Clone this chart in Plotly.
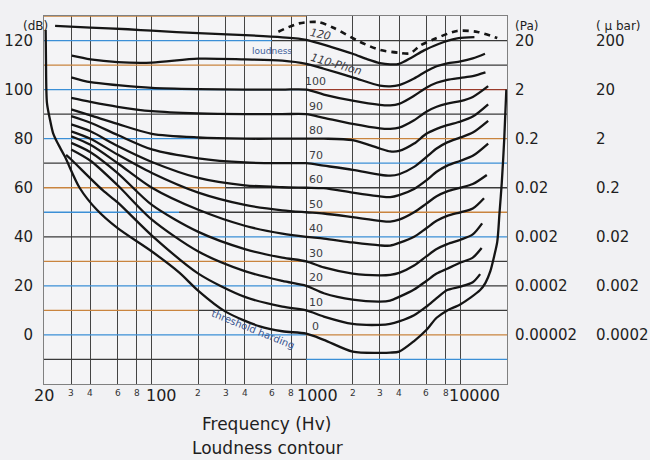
import numpy as np
import plotly.graph_objects as go

# ---------------- data ----------------
f_p0 = [20.5, 20.6, 20.9, 21.9, 22.9, 24.5, 27.3, 34, 44, 60, 100, 150, 200, 300, 500, 700, 1000, 1300,
        2000, 3000, 3500, 4000, 5000, 6000, 7000, 8200, 10000, 13400, 14500, 15600, 16500, 17300, 17900,
        18500, 19200, 19800]
db_p0 = [124.3, 112, 94.6, 87.6, 82.3, 78.2, 72.7, 60, 51, 43.5, 34, 25.5, 18, 9.5, 3.5, 1.5, 0.5, -2,
         -6.8, -7.3, -7.2, -6.8, -2.5, 2, 7, 10, 12.5, 18.3, 21.2, 26, 32, 38, 50, 62, 80, 100]

f_p10 = [27.8, 30, 48, 60, 100, 200, 400, 700, 1000, 1300, 2000, 3000, 3500, 4000, 5000, 6000, 7000,
         8200, 10000, 12000, 13400]
db_p10 = [73.4, 71.5, 59, 54, 40.5, 25, 15.5, 11.5, 10, 7.5, 4.5, 4.1, 4.5, 5.5, 8, 11.5, 15, 18.3,
          19.7, 21.5, 24.8]

f_std = [30, 40, 60, 100, 200, 400, 700, 1000, 1300, 2000, 3000, 3500, 4000, 5000, 6000, 7000, 8200,
         10000, 12000]

db_p20 = [75.6, 71, 61, 47, 34, 26, 22, 20, 17, 14.4, 13.6, 14, 15.5, 18.5, 22, 25, 27, 29.5, 31.5]
db_p30 = [78.3, 74.5, 66, 53, 42, 35, 31.5, 30, 27.5, 25, 24.3, 24.5, 25.3, 28.3, 32, 35, 37, 38.8, 41]
db_p40 = [81, 77.5, 70, 60, 51, 44.5, 41.3, 40, 39.3, 37.7, 36.5, 36.4, 37.5, 40, 43.5, 46.5, 48.5, 50, 51.5]
db_p50 = [83, 80, 73.5, 66, 58, 53, 50.8, 50, 49.5, 48, 46.5, 46.2, 47, 50, 53.5, 56.5, 58.5, 60, 61.5]
db_p60 = [85.8, 83, 77, 70.5, 64, 61, 60.2, 60, 59.8, 58, 56.5, 56.2, 57, 59.5, 63, 66.5, 69, 71, 73]
db_p70 = [89.2, 86.5, 81.5, 75.6, 72, 70.3, 70, 70, 69, 67.3, 65.3, 64.9, 65.5, 68.5, 72.5, 76, 78.5, 80.5, 82.5]
db_p80 = [91.9, 89.5, 86, 82, 80.5, 80, 80, 80, 80, 79.4, 76, 74.8, 75, 78, 82, 84, 85.5, 87, 89]
db_p90 = [96.6, 95, 93, 91.2, 90.3, 90, 90, 90, 88.5, 86, 84.2, 84, 84.5, 87.5, 91, 93, 94.3, 95.3, 97]
db_p100 = [105, 103, 101.8, 100.7, 100.2, 100, 100, 100, 98, 95.5, 93.8, 93.6, 94.2, 97.5, 100.8, 102.8,
           104, 104.8, 105.5]
db_p110 = [113.8, 112.3, 111.2, 111, 112.6, 112.3, 111.8, 110.5, 108.5, 105, 101.6, 101.3, 101.8, 104.5,
           107.5, 109.5, 110.7, 111.5, 112.7]

tip_f = {20: 13700, 30: 13800, 40: 14200, 50: 14800, 60: 15100, 70: 15100, 80: 15100, 90: 15100,
         100: 14500, 110: 14400}
tip_db = {20: 35.4, 30: 45.5, 40: 55.7, 50: 65.2, 60: 78, 70: 87.3, 80: 94, 90: 101.4, 100: 107, 110: 114.6}

f_p120 = [23.6, 40, 70, 100, 200, 400, 700, 1000, 1460, 2000, 2500, 3000, 3500, 4000, 4800, 5800, 7200,
          8300, 9700, 12300]
db_p120 = [126, 125.3, 124.6, 124, 123, 122.2, 121.3, 120.3, 117.3, 114.6, 112.3, 110.8, 110.3, 110.5,
           113, 116, 118.6, 120, 121, 121.4]

f_dash = [660, 900, 1200, 1500, 2240, 3000, 4000, 4700, 5500, 6700, 9500, 12900, 17300]
db_dash = [123.6, 127, 127.5, 125.2, 119.4, 116.2, 115, 114.8, 118, 120.5, 123.9, 123.5, 121]

phon_labels = ["0", "10", "20", "30", "40", "50", "60", "70", "80", "90", "100"]
phon_values = [0, 10, 20, 30, 40, 50, 60, 70, 80, 90, 100]

grid_freqs = [30, 40, 60, 80, 100, 200, 300, 400, 600, 800, 1000, 2000, 3000, 4000, 6000, 8000, 10000]
big_ticks = [20, 100, 1000, 10000]
big_labels = ["20", "100", "1000", "10000"]
small_ticks = [30, 40, 60, 80, 200, 300, 400, 600, 800, 2000, 3000, 4000, 6000, 8000]
small_labels = ["3", "4", "6", "8", "2", "3", "4", "6", "8", "2", "3", "4", "6", "8"]

y_ticks = [0, 20, 40, 60, 80, 100, 120]
pa_labels = ["0.00002", "0.0002", "0.002", "0.02", "0.2", "2", "20"]
ubar_labels = ["0.0002", "0.002", "0.02", "0.2", "2", "20", "200"]

BLUE, ORANGE, DARK, RED = "#3b8fd6", "#c9843e", "#3a3a3a", "#9a3a2a"
hline_db = [130, 120, 110, 100, 90, 80, 70, 60, 50, 40, 30, 20, 10, 0, -10]
hline_segments = [
    [(20, 1000, ORANGE)],
    [(20, 600, BLUE), (600, 20000, DARK)],
    [(20, 1000, ORANGE), (1000, 20000, DARK)],
    [(20, 1000, BLUE), (1000, 20000, RED)],
    [(20, 20000, DARK)],
    [(20, 200, BLUE), (200, 1000, DARK), (1000, 20000, ORANGE)],
    [(20, 1000, DARK), (1000, 20000, BLUE)],
    [(20, 300, ORANGE), (300, 20000, DARK)],
    [(20, 150, BLUE), (150, 1000, DARK), (1000, 20000, ORANGE)],
    [(20, 200, DARK), (200, 20000, BLUE)],
    [(20, 1000, ORANGE), (1000, 20000, DARK)],
    [(20, 1000, BLUE), (1000, 20000, DARK)],
    [(20, 200, ORANGE), (200, 20000, DARK)],
    [(20, 1000, BLUE), (1000, 20000, ORANGE)],
    [(20, 1000, DARK), (1000, 20000, BLUE)],
]

# ---------------- figure ----------------
fig = go.Figure()

# coloured horizontal grid lines
by_color = {}
for lvl, segs in zip(hline_db, hline_segments):
    for f0, f1, c in segs:
        xs, ys = by_color.setdefault(c, ([], []))
        xs += [f0, f1, None]
        ys += [lvl, lvl, None]
for c, (xs, ys) in by_color.items():
    fig.add_trace(go.Scatter(x=xs, y=ys, mode="lines", line=dict(color=c, width=1.3),
                             hoverinfo="skip", showlegend=False))

curve_line = dict(color="#151515", width=2.3, shape="spline", smoothing=0.8)

def add_curve(f, db):
    fig.add_trace(go.Scatter(x=f, y=db, mode="lines", line=curve_line,
                             hoverinfo="skip", showlegend=False))

add_curve(f_p0, db_p0)
add_curve(f_p10, db_p10)
for lvl, vals in [(20, db_p20), (30, db_p30), (40, db_p40), (50, db_p50), (60, db_p60),
                  (70, db_p70), (80, db_p80), (90, db_p90), (100, db_p100), (110, db_p110)]:
    f = list(f_std)
    d = list(vals)
    if lvl == 110:
        f[0] = 30.3
    add_curve(f + [tip_f[lvl]], d + [tip_db[lvl]])
add_curve(f_p120, db_p120)
fig.add_trace(go.Scatter(x=f_dash, y=db_dash, mode="lines",
                         line=dict(color="#151515", width=2.6, dash="6px,5px", shape="spline", smoothing=0.8),
                         hoverinfo="skip", showlegend=False))

ann = []
FONT = "DejaVu Sans"
# curve labels
for t, v in zip(phon_labels, phon_values):
    ann.append(dict(x=np.log10(1150), y=v + 3.3, xref="x", yref="y", text=t, showarrow=False,
                    font=dict(family=FONT, size=11, color="#3c3c44")))
ann.append(dict(x=np.log10(1570), y=110.2, xref="x", yref="y", text="<i>110-Phon</i>", showarrow=False,
                textangle=16, font=dict(family=FONT, size=11, color="#3c3c44")))
ann.append(dict(x=np.log10(1240), y=122.6, xref="x", yref="y", text="<i>120</i>", showarrow=False,
                textangle=12, font=dict(family=FONT, size=11, color="#3c3c44")))
ann.append(dict(x=np.log10(600), y=115.8, xref="x", yref="y", text="loudness", showarrow=False,
                font=dict(family=FONT, size=9, color="#40609a")))
ann.append(dict(x=np.log10(455), y=2.4, xref="x", yref="y", text="threshold harding", showarrow=False,
                textangle=22, font=dict(family=FONT, size=10, color="#3a5590")))

# x tick labels
xshift_big = [0, 10, 11, 14]
for f, t, s in zip(big_ticks, big_labels, xshift_big):
    ann.append(dict(x=np.log10(f), y=-0.03, xref="x", yref="paper", text=t, showarrow=False,
                    xshift=s, yanchor="middle", font=dict(family=FONT, size=16, color="#1e1e1e")))
for f, t in zip(small_ticks, small_labels):
    ann.append(dict(x=np.log10(f), y=-0.024, xref="x", yref="paper", text=t, showarrow=False,
                    yanchor="middle", font=dict(family=FONT, size=9, color="#333")))

# right-hand pressure scales
for v, p, u in zip(y_ticks, pa_labels, ubar_labels):
    ann.append(dict(x=1.012, y=v, xref="paper", yref="y", text=p, showarrow=False, xanchor="left",
                    font=dict(family=FONT, size=15, color="#1e1e1e")))
    ann.append(dict(x=1.188, y=v, xref="paper", yref="y", text=u, showarrow=False, xanchor="left",
                    font=dict(family=FONT, size=15, color="#1e1e1e")))
ann.append(dict(x=1.012, y=0.997, xref="paper", yref="paper", text="(Pa)", showarrow=False,
                xanchor="left", font=dict(family=FONT, size=12, color="#1e1e1e")))
ann.append(dict(x=1.188, y=0.997, xref="paper", yref="paper", text="( μ bar)", showarrow=False,
                xanchor="left", font=dict(family=FONT, size=12, color="#1e1e1e")))
ann.append(dict(x=-0.05, y=0.997, xref="paper", yref="paper", text="(dB)", showarrow=False,
                font=dict(family=FONT, size=12, color="#1e1e1e")))

# titles
ann.append(dict(x=0.48, y=-0.109, xref="paper", yref="paper", text="Frequency (Hv)", showarrow=False,
                yanchor="middle", font=dict(family=FONT, size=17, color="#1e1e1e")))
ann.append(dict(x=0.482, y=-0.174, xref="paper", yref="paper", text="Loudness contour", showarrow=False,
                yanchor="middle", font=dict(family=FONT, size=17, color="#1e1e1e")))

fig.update_layout(
    width=650, height=460,
    margin=dict(l=44, r=143, t=16, b=76),
    paper_bgcolor="#f1f1f3", plot_bgcolor="#f4f4f6",
    showlegend=False,
    annotations=ann,
    xaxis=dict(type="log", range=[np.log10(20), np.log10(20000)], tickvals=grid_freqs,
               showticklabels=False, showgrid=True, gridcolor="#444444", gridwidth=1.3,
               zeroline=False, showline=True, mirror=True, linecolor="#808080", linewidth=1,
               ticks="", automargin=False),
    yaxis=dict(range=[-20, 130], tickvals=y_ticks, showgrid=False, zeroline=False,
               showline=True, mirror=True, linecolor="#808080", linewidth=1, ticks="",
               ticklabelstandoff=7, automargin=False,
               tickfont=dict(family=FONT, size=15, color="#1e1e1e")),
)

fig.write_html("out.html", config={"displayModeBar": False},
               post_script="document.body.style.margin='0';")
